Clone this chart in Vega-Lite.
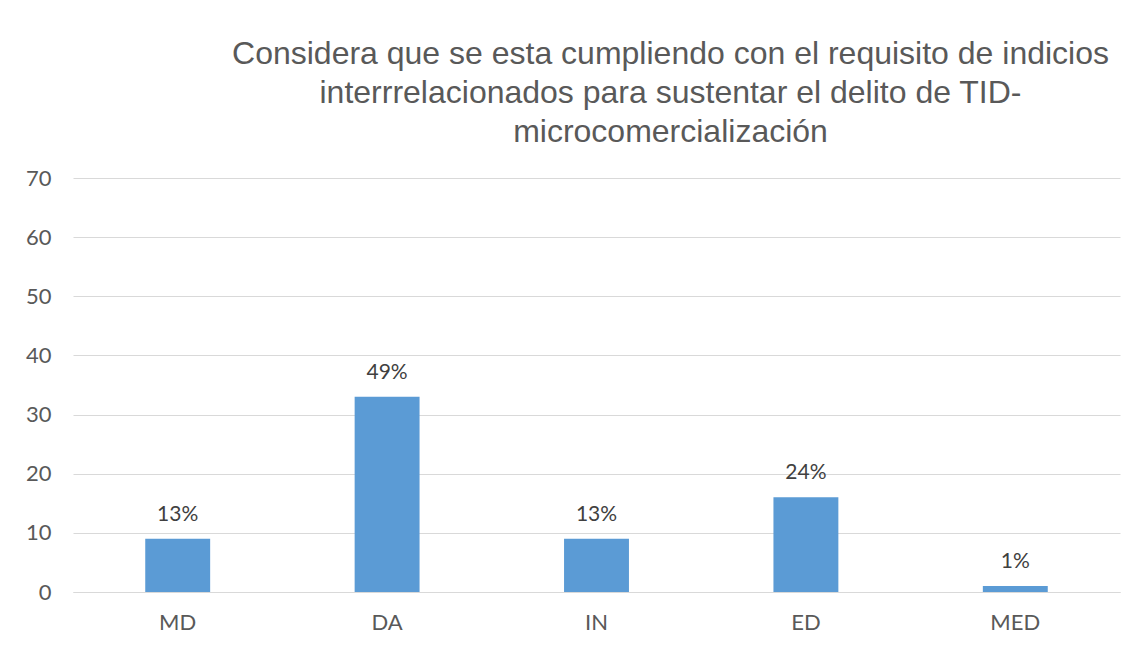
{
  "$schema": "https://vega.github.io/schema/vega-lite/v6.json",
  "autosize": "none",
  "width": 1047,
  "height": 414,
  "padding": {"left": 73, "top": 178, "right": 15, "bottom": 54},
  "background": "white",
  "config": {"view": {"stroke": null}},
  "title": {
    "text": ["Considera que se esta cumpliendo con el requisito de indicios", "interrrelacionados para sustentar el delito de TID-", "microcomercialización"],
    "font": "Liberation Sans",
    "fontSize": 32,
    "fontWeight": "normal",
    "color": "#595959",
    "lineHeight": 39,
    "anchor": "middle",
    "dx": 74,
    "offset": 18
  },
  "data": {
    "values": [
      {"cat": "MD", "value": 9, "label": "13%"},
      {"cat": "DA", "value": 33, "label": "49%"},
      {"cat": "IN", "value": 9, "label": "13%"},
      {"cat": "ED", "value": 16, "label": "24%"},
      {"cat": "MED", "value": 1, "label": "1%"}
    ]
  },
  "encoding": {
    "x": {
      "field": "cat", "type": "nominal", "sort": null,
      "scale": {"paddingInner": 0.69, "paddingOuter": 0.345},
      "axis": {
        "title": null, "labelAngle": 0, "ticks": false,
        "domainColor": "#d9d9d9", "domainWidth": 1,
        "labelFont": "Lato", "labelFontSize": 22, "labelColor": "#595959",
        "labelPadding": 20
      }
    },
    "y": {
      "field": "value", "type": "quantitative",
      "scale": {"domain": [0, 70]},
      "axis": {
        "title": null, "values": [0, 10, 20, 30, 40, 50, 60, 70],
        "ticks": false, "domain": false,
        "gridColor": "#d9d9d9", "gridWidth": 1,
        "labelFont": "Lato", "labelFontSize": 22, "labelColor": "#595959",
        "labelPadding": 22
      }
    }
  },
  "layer": [
    {"mark": {"type": "bar", "color": "#5B9BD5"}},
    {
      "mark": {"type": "text", "font": "Lato", "fontSize": 21, "color": "#404040", "baseline": "alphabetic", "dy": -18},
      "encoding": {"text": {"field": "label"}}
    }
  ]
}
